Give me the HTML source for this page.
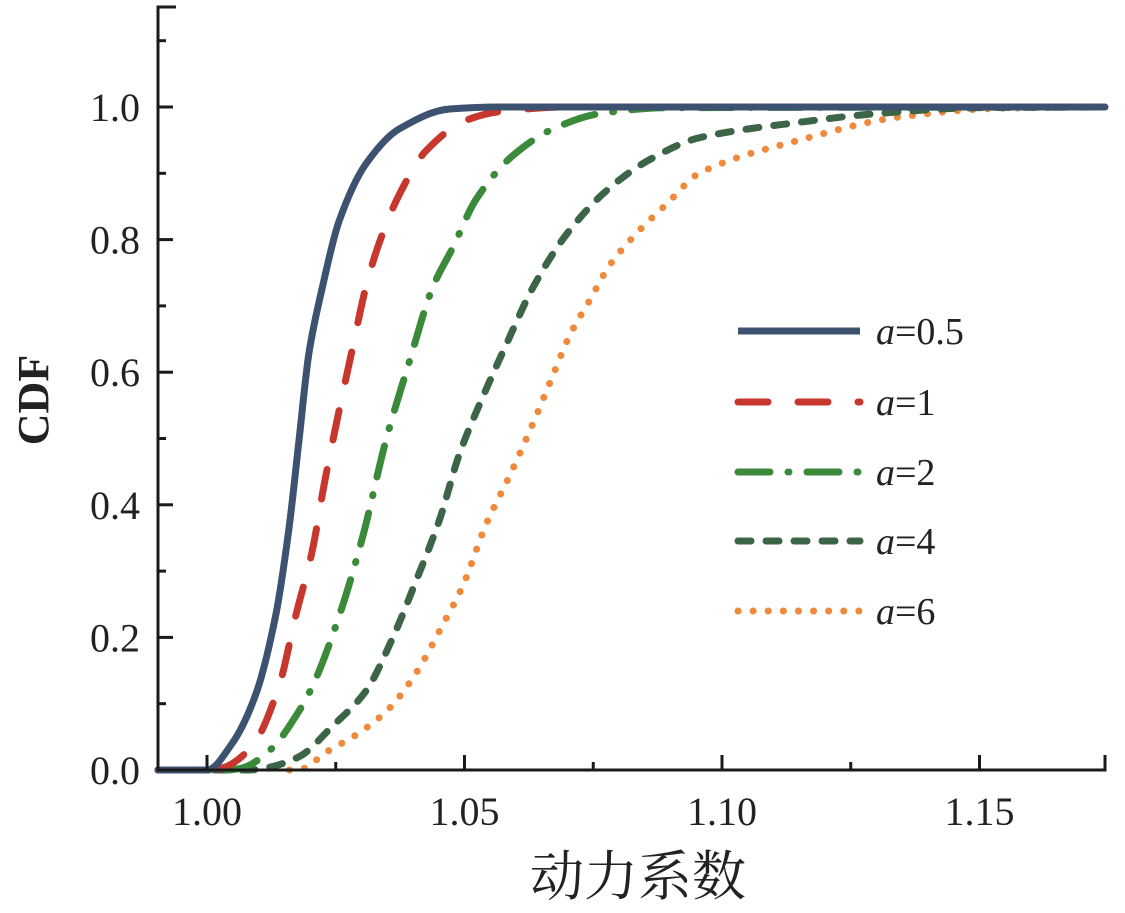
<!DOCTYPE html>
<html><head><meta charset="utf-8"><style>
html,body{margin:0;padding:0;background:#fff;}
svg{display:block;}
text{font-family:"Liberation Serif","Noto Serif CJK SC",serif;fill:#222;}
</style></head><body>
<svg id="chart" width="1125" height="913" viewBox="0 0 1125 913" xmlns="http://www.w3.org/2000/svg">
<g id="plot"></g>
<g id="axes"></g>
<g id="legend"></g>
<text transform="translate(48,400) rotate(-90)" text-anchor="middle" font-size="44" font-weight="bold">CDF</text>
<text x="638" y="895" text-anchor="middle" font-size="54">动力系数</text>
</svg>
<script>
const xTicks = [1.00, 1.05, 1.10, 1.15];
const xTickLabels = ["1.00", "1.05", "1.10", "1.15"];
const yTicks = [0, 0.2, 0.4, 0.6, 0.8, 1.0];
const yTickLabels = ["0.0", "0.2", "0.4", "0.6", "0.8", "1.0"];
const seriesNames = ["0.5", "1", "2", "4", "6"];
const x05 = [0.99,1.0,1.00487,1.00942,1.01331,1.01591,1.01786,1.0198,1.0224,1.02565,1.03084,1.03734,1.0471,1.0568,1.175];
const y05 = [0,0,0.040,0.113,0.232,0.364,0.497,0.629,0.728,0.828,0.914,0.967,0.997,1,1];
const x1 = [0.99,1.0,1.00292,1.00877,1.01396,1.01721,1.02045,1.02273,1.02532,1.02825,1.03084,1.03344,1.03734,1.04253,1.05032,1.05682,1.0698,1.175];
const y1 = [0,0,0.003,0.036,0.126,0.232,0.331,0.430,0.530,0.636,0.728,0.795,0.868,0.934,0.980,0.993,1,1];
const x2 = [0.99,1.004,1.00682,1.01266,1.01656,1.02045,1.02565,1.0302,1.03474,1.03929,1.04383,1.04773,1.05227,1.05942,1.06721,1.0763,1.0893,1.175];
const y2 = [0,0,0.003,0.033,0.073,0.126,0.232,0.351,0.497,0.616,0.728,0.788,0.861,0.927,0.967,0.990,0.999,1];
const x4 = [0.99,1.008,1.01136,1.01786,1.02435,1.03084,1.03604,1.04058,1.04513,1.04903,1.05357,1.05812,1.06331,1.06981,1.0776,1.08604,1.09578,1.1151,1.13,1.15,1.175];
const y4 = [0,0,0.003,0.020,0.066,0.119,0.199,0.285,0.377,0.477,0.563,0.642,0.728,0.808,0.874,0.921,0.954,0.977,0.99,0.999,1];
const x6 = [1.016,1.01916,1.0224,1.02955,1.03539,1.04058,1.04578,1.04968,1.05422,1.05877,1.06331,1.06721,1.07045,1.07435,1.07825,1.08409,1.08929,1.09578,1.115,1.1346,1.154,1.175];
const y6 = [0,0.003,0.023,0.056,0.093,0.146,0.219,0.278,0.371,0.444,0.523,0.596,0.656,0.709,0.762,0.815,0.854,0.901,0.95,0.985,0.998,1];

const X0=158, X1=1105, Y0=770, YTOP=7;
const xs = v => 207 + (v-1.0)*5150;
const ys = v => 770 - v*663;
const NS="http://www.w3.org/2000/svg";
function mk(tag, attrs, parent){const e=document.createElementNS(NS,tag);for(const k in attrs)e.setAttribute(k,attrs[k]);parent.appendChild(e);return e;}
function pathD(xa, ya){
  const px = xa.map(x=>Math.max(X0,Math.min(X1,xs(x))));
  const py = ya.map(y=>ys(y));
  const n=px.length, d=[], m=new Array(n).fill(0);
  for(let i=0;i<n-1;i++) d.push((py[i+1]-py[i])/(px[i+1]-px[i]));
  m[0]=d[0]; m[n-1]=d[n-2];
  for(let i=1;i<n-1;i++){
    if(d[i-1]*d[i]<=0) m[i]=0;
    else m[i]=2/(1/d[i-1]+1/d[i]);
  }
  let s="M"+px[0]+","+py[0];
  for(let i=0;i<n-1;i++){
    const h=px[i+1]-px[i];
    s+=` C${px[i]+h/3},${py[i]+m[i]*h/3} ${px[i+1]-h/3},${py[i+1]-m[i+1]*h/3} ${px[i+1]},${py[i+1]}`;
  }
  return s;
}
const styles=[
 {c:"#3d5170",dash:"none",cap:"round"},
 {c:"#c8372d",dash:"30 30",cap:"round"},
 {c:"#3a8a3a",dash:"32 18 1 18",cap:"round"},
 {c:"#3c6446",dash:"13 15",cap:"round"},
 {c:"#ef8a3c",dash:"0.1 15",cap:"round"}
];
const xsArr=[x05,x1,x2,x4,x6], ysArr=[y05,y1,y2,y4,y6];
const plot=document.getElementById('plot');
for(let s=4;s>=0;s--){
  const e=mk('path',{d:pathD(xsArr[s],ysArr[s]),fill:"none",stroke:styles[s].c,"stroke-width":7,"stroke-dasharray":styles[s].dash,"stroke-linecap":styles[s].cap,"stroke-linejoin":"round"},plot);
  
  
}
const axes=document.getElementById('axes');
let e=mk('path',{d:`M${X0+18},${YTOP} H${X0} V${Y0} H${X1} V${Y0-15}`,fill:"none",stroke:"#1a1a1a","stroke-width":3},axes);


for(let v=0.1;v<1.15;v+=0.2){
  e=mk('line',{x1:X0,x2:X0+8,y1:ys(v),y2:ys(v),stroke:"#1a1a1a","stroke-width":3},axes);
  
  
}
yTicks.forEach((v,i)=>{
  e=mk('line',{x1:X0,x2:X0+15,y1:ys(v),y2:ys(v),stroke:"#1a1a1a","stroke-width":3},axes);
  
  
  e=mk('text',{x:140,y:ys(v)+14,"text-anchor":"end","font-size":40},axes);
  e.textContent=yTickLabels[i];
  
  
});
[1.025,1.075,1.125,1.175].forEach(v=>{
  if(xs(v)>=X1) return;
  e=mk('line',{x1:xs(v),x2:xs(v),y1:Y0,y2:Y0-8,stroke:"#1a1a1a","stroke-width":3},axes);
  
  
});
xTicks.forEach((v,i)=>{
  e=mk('line',{x1:xs(v),x2:xs(v),y1:Y0,y2:Y0-15,stroke:"#1a1a1a","stroke-width":3},axes);
  
  
  e=mk('text',{x:xs(v),y:825,"text-anchor":"middle","font-size":40},axes);
  e.textContent=xTickLabels[i];
  
  
});
const legend=document.getElementById('legend');
const rowsY=[331,402,472,541,611];
seriesNames.forEach((n,i)=>{
  const g=mk('g',{},legend);
  
  
  mk('line',{x1:738,x2:860,y1:rowsY[i],y2:rowsY[i],stroke:styles[i].c,"stroke-width":7,"stroke-dasharray":styles[i].dash,"stroke-linecap":i===0?"butt":"round"},g);
  const t=mk('text',{x:876,y:rowsY[i]+13,"font-size":38},g);
  t.innerHTML='<tspan font-style="italic">a</tspan>=' + n;
});
</script>
</body></html>
